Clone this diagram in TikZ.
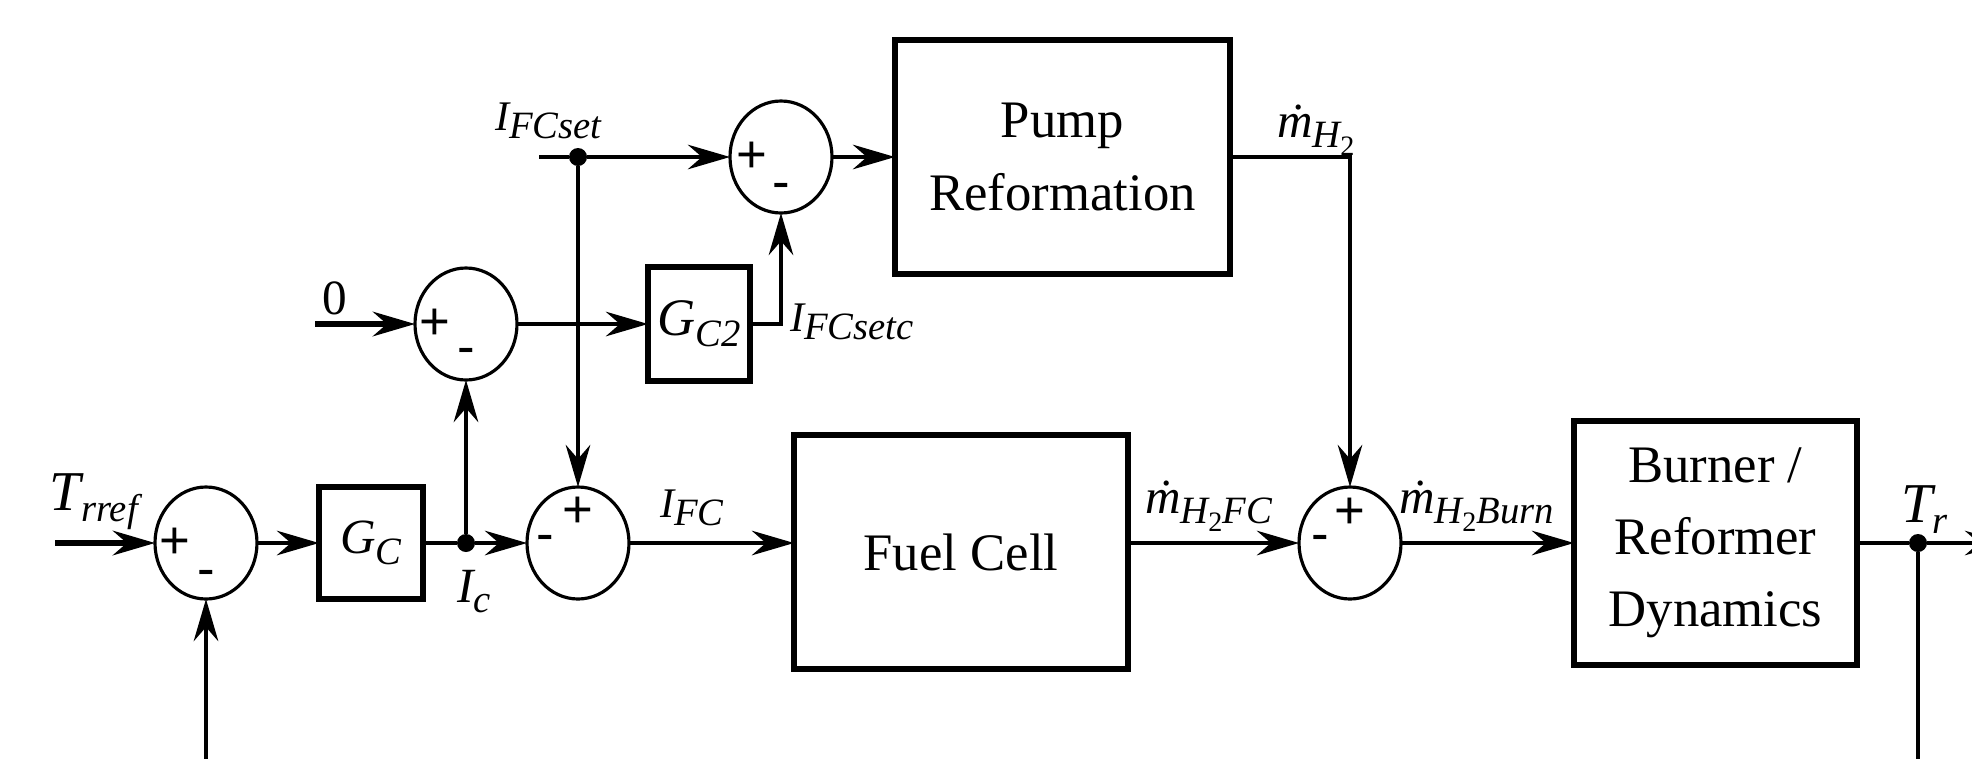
\documentclass[tikz,border=0pt]{standalone}
\usepackage{fontspec}
\setmainfont{Liberation Serif}
\newfontfamily\signfont{Liberation Sans}
\usetikzlibrary{arrows.meta,positioning,shapes.geometric}

% italic symbol with a lowered subscript: size, subsize, letter, subscript
\newcommand{\sym}[4]{{\fontsize{#1}{#1}\selectfont\itshape #3\raisebox{-0.21em}{\fontsize{#2}{#2}\selectfont #4}}}
\newcommand{\htwo}{H\raisebox{-0.2em}{\fontsize{8}{8}\selectfont\upshape 2}}

\begin{document}
\begin{tikzpicture}[
  every node/.style={inner sep=0pt,outer sep=0pt},
  sum/.style={ellipse,draw,line width=0.9pt,minimum width=1.02cm,minimum height=1.12cm},
  block/.style={rectangle,draw,line width=1.6pt,align=center,
    font=\fontsize{15}{20.5}\selectfont},
  dot/.style={circle,fill,minimum size=0.18cm},
  sgn/.style={font=\signfont\fontsize{15}{15}\selectfont},
  lbl/.style={anchor=base west},
  wire/.style={line width=1.1pt},
  thinwire/.style={line width=0.9pt},
  arr/.style={wire,-{Stealth[length=12pt,width=7pt,inset=4pt]}}
]
\useasboundingbox (0,0) rectangle (19.72,7.58);
\clip (0,0) rectangle (19.72,7.58);

% main loop
\node[sum] (s1) at (2.06,2.15) {};
\node[block,minimum width=1.04cm,minimum height=1.12cm,right=0.62cm of s1] (gc) {\sym{14}{11}{G}{C}};
\node[dot,right=0.34cm of gc] (jc) {};
\node[sum,right=0.52cm of jc] (s3) {};
\node[block,minimum width=3.34cm,minimum height=2.34cm,right=1.65cm of s3,yshift=-0.9mm] (fc) {Fuel Cell};
\node[sum,right=1.71cm of fc,yshift=0.9mm] (s4) {};
\node[block,minimum width=2.83cm,minimum height=2.44cm,right=1.73cm of s4] (br) {Burner /\\Reformer\\Dynamics};
\node[dot,right=0.52cm of br] (jr) {};

% inner loops
\node[sum,above=1.54cm of jc] (s0) {};
\node[block,minimum width=1.02cm,minimum height=1.14cm,right=1.31cm of s0] (gc2) {\sym{15}{11}{G}{C2}};
\node[dot,above=3.21cm of s3] (jset) {};
\node[sum,right=1.43cm of jset] (s2) {};
\node[block,minimum width=3.35cm,minimum height=2.34cm,right=0.63cm of s2] (pr) {Pump\\Reformation};

\coordinate[left=1cm of s1] (in1);
\coordinate[left=1cm of s0] (in0);
\coordinate[left=0.3cm of jset] (inset);
\coordinate[right=0.8cm of jr] (out);
\coordinate[below=1.7cm of s1] (fb);

% signs
\node[sgn] at ([xshift=-0.31cm]s1.center) {+};
\node[sgn] at ([yshift=-0.35cm]s1.center) {-};
\node[sgn] at ([xshift=-0.31cm]s0.center) {+};
\node[sgn] at ([yshift=-0.32cm]s0.center) {-};
\node[sgn] at ([xshift=-0.29cm]s2.center) {+};
\node[sgn] at ([yshift=-0.34cm]s2.center) {-};
\node[sgn] at ([yshift=0.31cm]s3.center) {+};
\node[sgn] at ([xshift=-0.33cm]s3.center) {-};
\node[sgn] at ([yshift=0.30cm]s4.center) {+};
\node[sgn] at ([xshift=-0.30cm]s4.center) {-};

% signal names
\node[lbl] at ([shift={(-0.05,0.33)}]in1) {\sym{16}{11}{T}{rref}};
\node[lbl] at ([shift={(0.07,0.10)}]in0) {\fontsize{14}{14}\selectfont 0};
\node[lbl] at ([shift={(-0.44,0.27)}]inset) {\sym{12}{11}{I}{FCset}};
\node[lbl] at ([shift={(-0.09,-0.59)}]jc) {\sym{14}{11}{I}{c}};
\node[lbl] at ([shift={(0.31,0.26)}]s3.east) {\sym{12}{11}{I}{FC}};
\node[lbl] at ([shift={(0.40,-0.07)}]gc2.east) {\sym{12}{11}{I}{FCsetc}};
\node[lbl] at ([shift={(0.47,0.20)}]pr.east) {\sym{14}{11}{ṁ}{\htwo}};
\node[lbl] at ([shift={(0.17,0.39)}]fc.east) {\sym{14}{11}{ṁ}{\htwo FC}};
\node[lbl] at ([shift={(-0.02,0.30)}]s4.east) {\sym{14}{11}{ṁ}{\htwo Burn}};
\node[lbl] at ([shift={(-0.17,0.21)}]jr) {\sym{16}{11}{T}{r}};

% connections
\draw[arr,line width=1.5pt] (in1) -- (s1);
\draw[arr] (s1) -- (gc);
\draw[wire] (gc) -- (jc);
\draw[arr] (jc) -- (s3);
\draw[arr] (jc) -- (s0);
\draw[arr,line width=1.5pt] (in0) -- (s0);
\draw[arr] (s0) -- (gc2);
\draw[arr,thinwire] (gc2) -| (s2);
\draw[wire] (inset) -- (jset);
\draw[arr] (jset) -- (s2);
\draw[arr] (jset) -- (s3);
\draw[arr] (s2) -- (pr);
\draw[arr,thinwire] (pr) -| (s4);
\draw[arr] (s3) -- (s3 -| fc.west);
\draw[arr] (fc.east |- s4) -- (s4);
\draw[arr] (s4) -- (br);
\draw[thinwire] (br) -- (jr);
\draw[arr,thinwire] (jr) -- (out);
\draw[thinwire] (jr) -- (jr |- fb);
\draw[arr] (fb) -- (s1);
\end{tikzpicture}
\end{document}
